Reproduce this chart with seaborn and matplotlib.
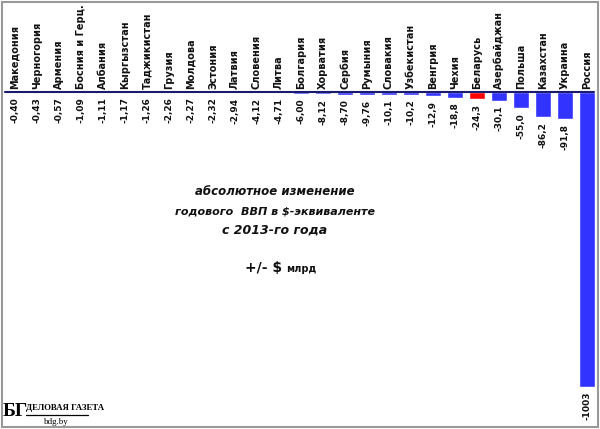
import matplotlib
matplotlib.use("Agg")
import matplotlib.pyplot as plt
import seaborn as sns
import pandas as pd
from matplotlib.patches import Rectangle

countries = ["Македония", "Черногория", "Армения", "Босния и Герц.", "Албания",
             "Кыргызстан", "Таджикистан", "Грузия", "Молдова", "Эстония", "Латвия",
             "Словения", "Литва", "Болгария", "Хорватия", "Сербия", "Румыния",
             "Словакия", "Узбекистан", "Венгрия", "Чехия", "Беларусь", "Азербайджан",
             "Польша", "Казахстан", "Украина", "Россия"]
values = [-0.40, -0.43, -0.57, -1.09, -1.11, -1.17, -1.26, -2.26, -2.27, -2.32, -2.94,
          -4.12, -4.71, -6.00, -8.12, -8.70, -9.76, -10.1, -10.2, -12.9, -18.8, -24.3,
          -30.1, -55.0, -86.2, -91.8, -1003]
value_labels = ["-0,40", "-0,43", "-0,57", "-1,09", "-1,11", "-1,17", "-1,26", "-2,26",
                "-2,27", "-2,32", "-2,94", "-4,12", "-4,71", "-6,00", "-8,12", "-8,70",
                "-9,76", "-10,1", "-10,2", "-12,9", "-18,8", "-24,3", "-30,1", "-55,0",
                "-86,2", "-91,8", "-1003"]
highlight = "Беларусь"

df = pd.DataFrame({"country": countries, "value": values})
palette = {c: ("#FF0000" if c == highlight else "#3333FF") for c in countries}

sns.set_theme(style="white")
plt.rcParams["font.family"] = ["DejaVu Sans"]

fig = plt.figure(figsize=(6, 4.29), dpi=100)
ax = fig.add_axes([0, 0, 1, 1])
sns.barplot(data=df, x="country", y="value", hue="country", palette=palette,
            legend=False, width=0.75, ax=ax, saturation=1)

ax.set_xlim(-0.68, 26.59)
ax.set_ylim(-1146, 313)
ax.axis("off")
ax.axhline(0, xmin=0.008, xmax=0.99, color="#1a1a6e", lw=1.5, zorder=3)

for i, (c, v, lab) in enumerate(zip(countries, values, value_labels)):
    ax.text(i, 12, c, rotation=90, ha="center", va="bottom", fontsize=7,
            fontweight="bold", color="#111111")
    ax.text(i, v - 16, lab, rotation=90, ha="center", va="top", fontsize=6.5,
            fontweight="bold", color="#111111")

# central annotation
fig.text(0.458, 1 - 192 / 429, "абсолютное изменение", ha="center", va="center",
         fontsize=8.5, style="italic", fontweight="bold", color="#111111")
fig.text(0.458, 1 - 211 / 429, "годового  ВВП в $-эквиваленте", ha="center", va="center",
         fontsize=8, style="italic", fontweight="bold", color="#111111")
fig.text(0.458, 1 - 230 / 429, "с 2013-го года", ha="center", va="center",
         fontsize=9, style="italic", fontweight="bold", color="#111111")
fig.text(282 / 600, 1 - 268 / 429, "+/- $", ha="right", va="center",
         fontsize=10, fontweight="bold", color="#111111")
fig.text(286 / 600, 1 - 269 / 429, "млрд", ha="left", va="center",
         fontsize=7, fontweight="bold", color="#111111")

# logo
fig.text(3 / 600, 1 - 412 / 429, "БГ", ha="left", va="center", fontsize=14,
         fontweight="bold", family="Liberation Serif", color="black")
fig.text(26 / 600, 1 - 408 / 429, "ДЕЛОВАЯ ГАЗЕТА", ha="left", va="center", fontsize=6.3,
         family="Liberation Serif", fontweight="bold", color="black")
fig.add_artist(plt.Line2D([26 / 600, 88 / 600], [1 - 415 / 429, 1 - 415 / 429],
                          color="black", lw=0.9, transform=fig.transFigure))
fig.text(56 / 600, 1 - 422 / 429, "bdg.by", ha="center", va="center", fontsize=6.5,
         family="Liberation Serif", color="black")

# frame
fig.add_artist(Rectangle((0.004, 0.004), 0.992, 0.992, transform=fig.transFigure,
                         fill=False, edgecolor="#999999", lw=1.5))

fig.savefig("out.png", dpi=100)
